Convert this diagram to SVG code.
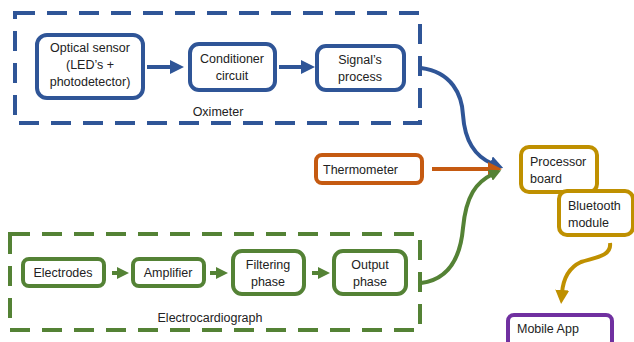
<svg xmlns="http://www.w3.org/2000/svg" width="634" height="342" viewBox="0 0 634 342">
<style>
text{font-family:"Liberation Sans","Open Sans",Arial,sans-serif;font-size:12.5px;fill:#222}
.c{text-anchor:middle}
.blue{stroke:#2F5597}
.green{stroke:#548235}
.box{fill:#fff;stroke-width:4}
.dash{fill:none;stroke-width:4;stroke-dasharray:20 12}
.ln{fill:none;stroke-width:4}
</style>
<defs>
<marker id="ab" markerUnits="userSpaceOnUse" markerWidth="14" markerHeight="14" viewBox="0 0 14 14" refX="3" refY="7" orient="auto"><path d="M0,0 L14,7 L0,14 z" fill="#2F5597"/></marker>
<marker id="ag" markerUnits="userSpaceOnUse" markerWidth="12" markerHeight="12" viewBox="0 0 12 12" refX="3" refY="6" orient="auto"><path d="M0,0 L12,6 L0,12 z" fill="#548235"/></marker>
<marker id="ao" markerUnits="userSpaceOnUse" markerWidth="14" markerHeight="14" viewBox="0 0 14 14" refX="3" refY="7" orient="auto"><path d="M0,0 L14,7 L0,14 z" fill="#C55A11"/></marker>
<marker id="ay" markerUnits="userSpaceOnUse" markerWidth="14" markerHeight="14" viewBox="0 0 14 14" refX="3" refY="7" orient="auto"><path d="M0,0 L14,7 L0,14 z" fill="#BF9000"/></marker>
</defs>

<g id="oximeter-group">
<rect x="15" y="13" width="405" height="110" class="dash blue"/>
<text x="218" y="116" class="c">Oximeter</text>
</g>
<g id="ecg-group">
<rect x="10" y="234" width="410" height="96" class="dash green"/>
<text x="210" y="322" class="c">Electrocardiograph</text>
</g>

<g id="connectors">
<line x1="147" y1="67" x2="173" y2="67" class="ln blue" marker-end="url(#ab)"/>
<line x1="279" y1="67" x2="304" y2="67" class="ln blue" marker-end="url(#ab)"/>
<path d="M421,68 C452,72 462,95 463,115 C465,145 478,158 493,164" class="ln blue" marker-end="url(#ab)"/>
<line x1="432" y1="169" x2="491" y2="169" stroke="#C55A11" class="ln" marker-end="url(#ao)"/>
<path d="M421,283 C445,280 460,262 463,228 C466,196 476,182 493,174" class="ln green" marker-end="url(#ag)"/>
<line x1="112" y1="273" x2="120" y2="273" class="ln green" marker-end="url(#ag)"/>
<line x1="210" y1="273" x2="219" y2="273" class="ln green" marker-end="url(#ag)"/>
<line x1="312" y1="273" x2="321" y2="273" class="ln green" marker-end="url(#ag)"/>
<path d="M610,243 C612,257 592,258 581,262 C568,268 563,281 562,293" stroke="#BF9000" class="ln" marker-end="url(#ay)"/>
</g>

<g id="optical-sensor">
<rect x="37" y="35" width="106" height="63" rx="10" class="box blue"/>
<text x="90" y="52" class="c">Optical sensor</text>
<text x="90" y="69" class="c">(LED’s +</text>
<text x="90" y="86" class="c">photodetector)</text>
</g>
<g id="conditioner">
<rect x="190" y="44" width="85" height="46" rx="9" class="box blue"/>
<text x="232" y="63" class="c">Conditioner</text>
<text x="232" y="80" class="c">circuit</text>
</g>
<g id="signal-process">
<rect x="317" y="46" width="87" height="44" rx="9" class="box blue"/>
<text x="360" y="64" class="c">Signal’s</text>
<text x="360" y="81" class="c">process</text>
</g>

<g id="thermometer">
<rect x="316" y="155" width="106" height="28" rx="6" class="box" stroke="#C55A11"/>
<text x="323" y="174">Thermometer</text>
</g>

<g id="electrodes">
<rect x="23" y="259" width="81" height="27" rx="6" class="box green"/>
<text x="63" y="277" class="c">Electrodes</text>
</g>
<g id="amplifier">
<rect x="133" y="259" width="71" height="27" rx="6" class="box green"/>
<text x="168" y="277" class="c">Amplifier</text>
</g>
<g id="filtering">
<rect x="233" y="251" width="71" height="43" rx="9" class="box green"/>
<text x="268" y="269" class="c">Filtering</text>
<text x="268" y="286" class="c">phase</text>
</g>
<g id="output">
<rect x="334" y="251" width="72" height="43" rx="9" class="box green"/>
<text x="370" y="269" class="c">Output</text>
<text x="370" y="286" class="c">phase</text>
</g>

<g id="processor-board">
<rect x="521" y="147" width="76" height="45" rx="8" class="box" stroke="#BF9000"/>
<text x="530" y="166">Processor</text>
<text x="530" y="183">board</text>
</g>
<g id="bluetooth">
<rect x="559" y="191" width="74" height="44" rx="8" class="box" stroke="#BF9000"/>
<text x="568" y="210">Bluetooth</text>
<text x="568" y="227">module</text>
</g>
<g id="mobile-app">
<rect x="508" y="315" width="104" height="32" rx="6" class="box" stroke="#7030A0"/>
<text x="517" y="333">Mobile App</text>
</g>
</svg>
